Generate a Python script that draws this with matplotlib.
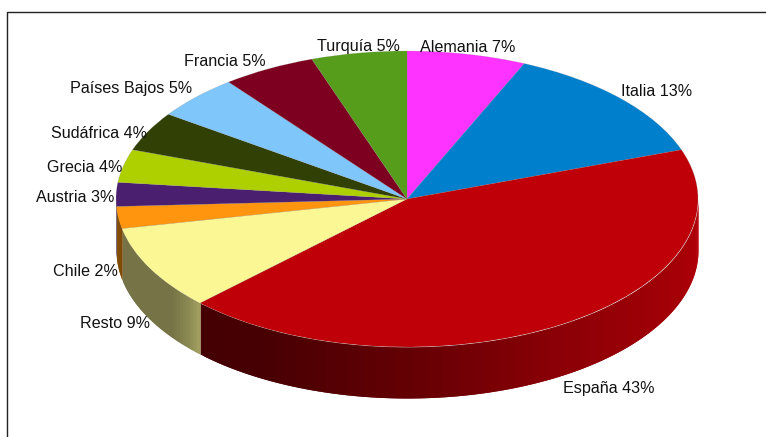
import numpy as np
import matplotlib
matplotlib.use("Agg")
import matplotlib.pyplot as plt
from matplotlib.colors import to_rgb

# Slices, clockwise from the top
countries = ["Alemania", "Italia", "España", "Resto", "Chile", "Austria",
             "Grecia", "Sudáfrica", "Países Bajos", "Francia", "Turquía"]
label_pct = [7, 13, 43, 9, 2, 3, 4, 4, 5, 5, 5]
# the slices as measured on the picture, a bit different from the printed labels
shares = [6.6, 13.0, 43.0, 9.2, 2.4, 2.6, 3.6, 4.3, 4.8, 5.2, 5.3]

colors = ["#ff33ff", "#0080cc", "#bf0008", "#fbf795", "#ff950e", "#4b1f6f",
          "#aecf00", "#314004", "#7fc6fa", "#7e0021", "#579d1c"]

W, H = 766, 437
CX, CY = 407, 199      # pie centre in pixels
RX, RY = 291, 148      # pie ellipse half axes in pixels
DEPTH = 51 / RY

plt.rcParams["font.family"] = ["Liberation Sans", "DejaVu Sans"]

fig = plt.figure(figsize=(W / 100, H / 100), dpi=100)
ax = fig.add_axes([0, 0, 1, 1])


def px(x, y):
    # pixels of the picture to pie units
    return (x - CX) / RX, (CY - y) / RY


wedges, _ = ax.pie(shares, colors=colors, startangle=90, counterclock=False,
                   radius=1, wedgeprops={"linewidth": 0.3, "edgecolor": "#80808060", "zorder": 3})
ax.set_aspect("auto")
ax.set_xlim(px(0, 0)[0], px(W, 0)[0])
ax.set_ylim(px(0, H)[1], px(0, 0)[1])
ax.axis("off")


def shade(name, t):
    # t is the angle in degrees on the front side, 360 = right, 180 = left
    if name == "España":
        f = np.interp(t, [225, 240, 270, 300, 330, 350, 360], [0.36, 0.37, 0.52, 0.72, 0.84, 0.90, 0.97])
    elif name == "Resto":
        f = np.interp(t, [190, 216, 221, 225.5], [0.47, 0.47, 0.55, 0.68])
    else:
        f = 0.5
    return tuple(c * f for c in to_rgb(colors[countries.index(name)]))


# side wall of the cylinder, thin strips along the front of each slice
for name, w in zip(countries, wedges):
    for a, b in [(w.theta1, w.theta2), (w.theta1 + 360, w.theta2 + 360)]:
        a2, b2 = max(a, 180), min(b, 360)
        if b2 <= a2:
            continue
        edges = np.append(np.arange(a2, b2, 1.0), b2)
        for t0, t1 in zip(edges[:-1], edges[1:]):
            # each strip runs on under the next one so no seams show
            th = np.radians(np.linspace(t0, min(t1 + 1.0, b2), 5))
            x = np.cos(th)
            y = np.sin(th)
            ax.fill_between(x, y - DEPTH, y, color=shade(name, (t0 + t1) / 2),
                            linewidth=0, zorder=2)

label_x = [420, 621, 563, 80, 53, 36, 47, 51, 70, 184, 317]
label_y = [47, 91, 388, 323, 271, 198, 168, 134, 89, 62, 46]
for name, p, lx, ly in zip(countries, label_pct, label_x, label_y):
    tx, ty = px(lx, ly)
    ax.text(tx, ty, f"{name} {p}%", ha="left", va="center", fontsize=11.6,
            color="#111111", zorder=5)

# frame, open at the right and at the bottom
fx0, fy0 = px(7, 12)
fx1, fy1 = px(W, H)
ax.plot([fx0, fx0, fx1], [fy1, fy0, fy0], color="#222222", lw=1.0, zorder=6, clip_on=False)

fig.savefig("out.png", dpi=100, facecolor="white")
